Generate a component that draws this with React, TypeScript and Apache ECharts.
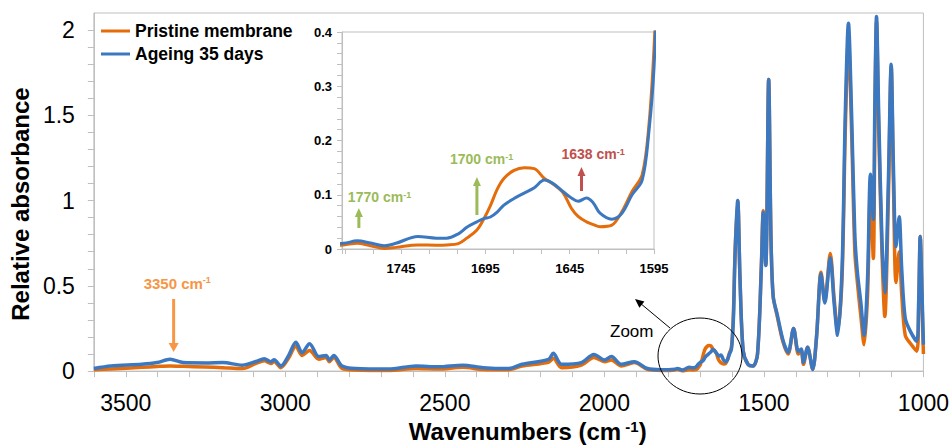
import React, { useEffect, useRef } from "react";
import * as echarts from "echarts";

// ---- Data ----
const wavenumbers = [
  3600, 3547, 3450, 3402, 3361, 3320, 3250, 3196, 3134, 3092, 3066, 3045, 3035, 3014, 2990, 2967, 2947, 2924,
  2895, 2872, 2862, 2848, 2822, 2780, 2677, 2590, 2520, 2444, 2380, 2299, 2258, 2175, 2160, 2134, 2072, 2033,
  1999, 1978, 1947, 1906, 1865, 1823, 1800,
  1779, 1771, 1763, 1755, 1748, 1735, 1724, 1718, 1711, 1706, 1700, 1696, 1692, 1688, 1684, 1678, 1672, 1666,
  1660, 1655, 1649, 1644, 1640, 1635, 1631, 1627, 1620, 1614, 1608, 1602, 1598, 1595,
  1590, 1582, 1575, 1565, 1550, 1534, 1520, 1508, 1502, 1494, 1485, 1478, 1471, 1458, 1440, 1424, 1407, 1392,
  1383, 1376, 1363, 1347, 1335, 1321, 1309, 1292, 1280, 1269, 1255, 1245, 1235, 1225, 1215, 1207, 1196, 1186,
  1175, 1166, 1157, 1152, 1147, 1140, 1130, 1121, 1110, 1101, 1094, 1086, 1076, 1068, 1057, 1040, 1021, 1015,
  1010, 1005, 1000,
];

const pristine = [
  0.008, 0.012, 0.022, 0.027, 0.03, 0.028, 0.024, 0.02, 0.015, 0.045, 0.06, 0.045, 0.057, 0.02, 0.075, 0.146, 0.092, 0.121,
  0.07, 0.08, 0.055, 0.08, 0.015, 0.006, 0.003, 0.015, 0.012, 0.022, 0.01, 0.008, 0.03, 0.052, 0.075, 0.02, 0.035, 0.08,
  0.055, 0.065, 0.03, 0.05, 0.01, 0.004, 0.004,
  0.0075, 0.0105, 0.006, 0.001, 0.003, 0.0075, 0.007, 0.0075, 0.01, 0.02, 0.035, 0.055, 0.08, 0.11, 0.13, 0.145, 0.15, 0.148,
  0.13, 0.12, 0.104, 0.075, 0.06, 0.05, 0.045, 0.041, 0.044, 0.069, 0.106, 0.137, 0.229, 0.37,
  0.72, 1.0, 0.55, 0.12, 0.04, 0.03, 0.1, 0.62, 0.94, 0.62, 1.71, 0.8, 0.44, 0.32, 0.17, 0.1, 0.25, 0.1,
  0.12, 0.04, 0.14, 0.01, 0.2, 0.58, 0.41, 0.69, 0.43, 0.24, 0.55, 1.4, 1.94, 1.4, 0.7, 0.52, 0.32, 0.155,
  0.45, 1.08, 0.66, 1.5, 2.05, 1.4, 0.7, 0.32, 1.0, 1.78, 1.1, 0.52, 0.7, 0.45, 0.21, 0.16, 0.117, 0.35,
  0.79, 0.45, 0.1,
];

const ageing = [
  0.015, 0.03, 0.04, 0.05, 0.069, 0.05, 0.048, 0.05, 0.035, 0.056, 0.073, 0.055, 0.067, 0.03, 0.09, 0.169, 0.108, 0.161,
  0.085, 0.092, 0.065, 0.092, 0.03, 0.015, 0.012, 0.03, 0.025, 0.035, 0.02, 0.015, 0.04, 0.069, 0.104, 0.04, 0.05, 0.098,
  0.065, 0.085, 0.04, 0.055, 0.015, 0.008, 0.008,
  0.0105, 0.015, 0.011, 0.006, 0.0105, 0.023, 0.02, 0.02, 0.028, 0.04, 0.05, 0.056, 0.059, 0.068, 0.081, 0.093, 0.103, 0.113,
  0.127, 0.121, 0.106, 0.094, 0.088, 0.094, 0.085, 0.066, 0.055, 0.066, 0.1, 0.127, 0.217, 0.334,
  0.7, 1.0, 0.55, 0.12, 0.04, 0.03, 0.1, 0.6, 0.93, 0.62, 1.71, 0.8, 0.44, 0.33, 0.18, 0.11, 0.25, 0.115,
  0.13, 0.05, 0.14, 0.01, 0.2, 0.57, 0.4, 0.665, 0.4, 0.21, 0.6, 1.5, 2.04, 1.5, 0.8, 0.58, 0.4, 0.21,
  0.55, 1.155, 0.89, 1.6, 2.08, 1.5, 0.77, 0.46, 1.1, 1.8, 1.2, 0.73, 0.905, 0.6, 0.31, 0.23, 0.175, 0.4,
  0.79, 0.5, 0.155,
];

const seriesNames = ["Pristine membrane", "Ageing 35 days"];
const mainXLabelStep = 500;
const insetXTicks = [1745, 1695, 1645, 1595];
const annotations = [
  { wn: 3350, label: "3350 cm", color: "#F79646" },
  { wn: 1770, label: "1770 cm", color: "#9BBB59" },
  { wn: 1700, label: "1700 cm", color: "#9BBB59" },
  { wn: 1638, label: "1638 cm", color: "#C0504D" },
];

const ORANGE = "#E46C0A";
const BLUE = "#3C78C0";
const AXIS_GREY = "#BFBFBF";
const FONT = "'Liberation Sans', Arial, sans-serif";

const pairs = (vals: number[]) => wavenumbers.map((w, i) => [w, vals[i]]);

export default function App() {
  const ref = useRef<HTMLDivElement>(null);

  useEffect(() => {
    if (!ref.current) return;
    const chart = echarts.init(ref.current, undefined, { renderer: "svg" });

    const option: any = {
      animation: false,
      backgroundColor: "#ffffff",
      color: [ORANGE, BLUE],
      textStyle: { fontFamily: FONT },
      legend: {
        left: 96,
        top: 17,
        orient: "vertical",
        icon: "rect",
        itemWidth: 29,
        itemHeight: 3,
        itemGap: 5,
        textStyle: { fontSize: 17.5, fontWeight: "bold", color: "#000", fontFamily: FONT },
        data: seriesNames,
      },
      grid: [
        { left: 88, right: 27, top: 13, bottom: 71, show: true, borderColor: AXIS_GREY, borderWidth: 1 },
        { left: 342, right: 298, top: 32, bottom: 199, show: true, borderColor: AXIS_GREY, borderWidth: 1, backgroundColor: "#ffffff" },
      ],
      xAxis: [
        {
          type: "value",
          gridIndex: 0,
          min: 1000,
          max: 3600,
          interval: 100,
          inverse: true,
          axisLine: { lineStyle: { color: AXIS_GREY } },
          axisTick: { show: true, length: 6, lineStyle: { color: AXIS_GREY } },
          splitLine: { show: false },
          axisLabel: {
            fontSize: 23,
            color: "#000",
            fontFamily: FONT,
            margin: 20,
            formatter: (v: number) => (Math.round(v) % mainXLabelStep === 0 ? String(Math.round(v)) : ""),
          },
          name: "{b|Wavenumbers (cm}{s| -1}{b|)}",
          nameLocation: "middle",
          nameGap: 47,
          nameTextStyle: {
            padding: [0, 0, 0, 38],
            rich: {
              b: { fontSize: 24, fontWeight: "bold", color: "#000", fontFamily: FONT },
              s: { fontSize: 15, fontWeight: "bold", color: "#000", fontFamily: FONT, verticalAlign: "top" },
            },
          },
        },
        {
          type: "value",
          gridIndex: 1,
          min: 1595,
          max: 1780,
          interval: 50,
          inverse: true,
          axisLine: { lineStyle: { color: AXIS_GREY } },
          axisTick: { show: true, length: 5, lineStyle: { color: AXIS_GREY } },
          minorTick: { show: true, splitNumber: 3, length: 5, lineStyle: { color: AXIS_GREY } },
          splitLine: { show: false },
          axisLabel: {
            fontSize: 13,
            fontWeight: "bold",
            color: "#000",
            fontFamily: FONT,
            margin: 13,
            formatter: (v: number) => (insetXTicks.includes(Math.round(v)) ? String(Math.round(v)) : ""),
          },
        },
      ],
      yAxis: [
        {
          type: "value",
          gridIndex: 0,
          min: 0,
          max: 2.1,
          interval: 0.1,
          axisLine: { show: true, lineStyle: { color: AXIS_GREY } },
          axisTick: { show: true, length: 6, lineStyle: { color: AXIS_GREY } },
          splitLine: { show: false },
          axisLabel: {
            fontSize: 23,
            color: "#000",
            fontFamily: FONT,
            margin: 19,
            showMaxLabel: false,
            formatter: (v: number) => {
              const r = Math.round(v * 10);
              return r % 5 === 0 ? String(r / 10) : "";
            },
          },
          name: "Relative absorbance",
          nameLocation: "middle",
          nameGap: 54,
          nameTextStyle: { fontSize: 24, fontWeight: "bold", color: "#000", fontFamily: FONT, padding: [0, 24, 0, 0] },
        },
        {
          type: "value",
          gridIndex: 1,
          min: 0,
          max: 0.4,
          interval: 0.02,
          axisLine: { show: true, lineStyle: { color: AXIS_GREY } },
          axisTick: { show: true, length: 5, lineStyle: { color: AXIS_GREY } },
          splitLine: { show: false },
          axisLabel: {
            fontSize: 13,
            fontWeight: "bold",
            color: "#000",
            fontFamily: FONT,
            margin: 10,
            formatter: (v: number) => {
              const r = Math.round(v * 100);
              return r % 10 === 0 ? String(r / 100) : "";
            },
          },
        },
      ],
      series: [
        {
          name: seriesNames[0], type: "line", xAxisIndex: 0, yAxisIndex: 0, data: pairs(pristine),
          showSymbol: false, symbol: "none", smooth: 0.3, lineStyle: { color: ORANGE, width: 3.5 }, itemStyle: { color: ORANGE }, z: 2,
        },
        {
          name: seriesNames[1], type: "line", xAxisIndex: 0, yAxisIndex: 0, data: pairs(ageing),
          showSymbol: false, symbol: "none", smooth: 0.3, lineStyle: { color: BLUE, width: 3.5 }, itemStyle: { color: BLUE }, z: 3,
        },
        {
          name: seriesNames[0], type: "line", xAxisIndex: 1, yAxisIndex: 1, data: pairs(pristine),
          showSymbol: false, symbol: "none", smooth: 0.35, lineStyle: { color: ORANGE, width: 3 }, itemStyle: { color: ORANGE }, z: 4,
        },
        {
          name: seriesNames[1], type: "line", xAxisIndex: 1, yAxisIndex: 1, data: pairs(ageing),
          showSymbol: false, symbol: "none", smooth: 0.35, lineStyle: { color: BLUE, width: 3 }, itemStyle: { color: BLUE }, z: 5,
        },
      ],
    };

    chart.setOption(option);

    const xp = (w: number, idx: number) => chart.convertToPixel({ xAxisIndex: idx } as any, w) as number;

    const arrow = (x: number, tail: number, tip: number, color: string, shaftW: number, headW: number, headH: number) => {
      const down = tip > tail;
      const baseY = down ? tip - headH : tip + headH;
      return [
        {
          type: "rect",
          shape: { x: x - shaftW / 2, y: Math.min(tail, baseY), width: shaftW, height: Math.abs(baseY - tail) },
          style: { fill: color },
          z: 100,
        },
        {
          type: "polygon",
          shape: { points: [[x - headW / 2, baseY], [x + headW / 2, baseY], [x, tip]] },
          style: { fill: color },
          z: 100,
        },
      ];
    };

    const label = (text: string, x: number, y: number, color: string, size: number) => ({
      type: "text",
      x,
      y,
      z: 100,
      style: {
        text: `{a|${text}}{s|-1}`,
        verticalAlign: "middle",
        rich: {
          a: { fontSize: size, fontWeight: "bold", fill: color, color, fontFamily: FONT },
          s: { fontSize: Math.round(size * 0.62), fontWeight: "bold", fill: color, color, fontFamily: FONT, verticalAlign: "top" },
        },
      },
    });

    const a0 = xp(annotations[0].wn, 0);
    const a1 = xp(annotations[1].wn, 1);
    const a2 = xp(annotations[2].wn, 1);
    const a3 = xp(annotations[3].wn, 1);

    const graphic: any[] = [
      ...arrow(a0, 299, 352, annotations[0].color, 3, 10, 9),
      label(annotations[0].label, a0 - 30, 283, annotations[0].color, 15),
      ...arrow(a1, 228, 208, annotations[1].color, 3, 8, 9),
      label(annotations[1].label, a1 - 11, 197, annotations[1].color, 14),
      ...arrow(a2, 215, 177, annotations[2].color, 3, 8, 9),
      label(annotations[2].label, a2 - 27, 159, annotations[2].color, 14),
      ...arrow(a3, 191, 167, annotations[3].color, 3, 8, 9),
      label(annotations[3].label, a3 - 20, 154, annotations[3].color, 14),
      {
        type: "ellipse",
        shape: { cx: 700, cy: 356, rx: 42, ry: 38 },
        style: { fill: "none", stroke: "#000", lineWidth: 1 },
        z: 100,
      },
      {
        type: "line",
        shape: { x1: 670, y1: 328, x2: 640, y2: 303 },
        style: { stroke: "#000", lineWidth: 1 },
        z: 100,
      },
      {
        type: "polygon",
        shape: { points: [[635, 299], [644.4, 301.6], [639.4, 307.8]] },
        style: { fill: "#000" },
        z: 100,
      },
      {
        type: "text",
        x: 610,
        y: 331,
        z: 100,
        style: { text: "Zoom", fontSize: 17, fill: "#000", fontFamily: FONT, verticalAlign: "middle" },
      },
    ];

    chart.setOption({ graphic });

    return () => chart.dispose();
  }, []);

  return <div ref={ref} style={{ position: "fixed", left: 0, top: 0, width: 952, height: 448 }} />;
}
